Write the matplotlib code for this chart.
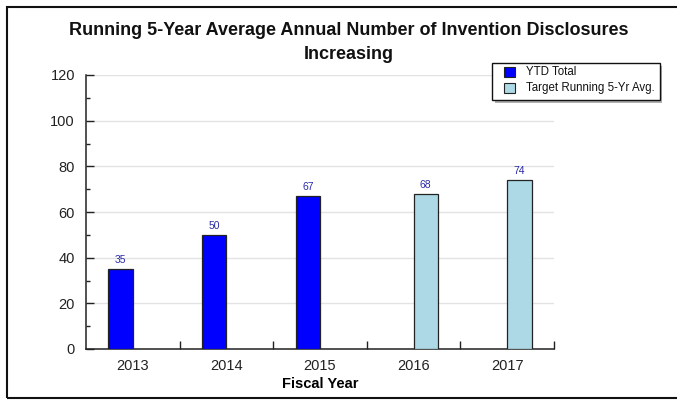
import matplotlib
matplotlib.use("Agg")
import matplotlib.pyplot as plt
from matplotlib.patches import Rectangle
import numpy as np

plt.rcParams['font.family'] = ['Liberation Sans', 'DejaVu Sans']

# data
years = ['2013', '2014', '2015', '2016', '2017']
ytd_total = [35, 50, 67, np.nan, np.nan]
target_avg = [np.nan, np.nan, np.nan, 68, 74]
series_names = ['YTD Total', 'Target Running 5-Yr Avg.']
series_colors = ['#0000ff', '#add8e6']
title = 'Running 5-Year Average Annual Number of Invention Disclosures\nIncreasing'

W, H = 677, 400


def fx(px):
    return px / W


def fy(py):
    return 1 - py / H


fig = plt.figure(figsize=(W / 100, H / 100), dpi=100)
ax = fig.add_axes([fx(86), fy(349), (554 - 86) / W, (349 - 75) / H])

x = np.arange(len(years))
w = 0.26
b1 = ax.bar(x - w / 2, ytd_total, w, color=series_colors[0], edgecolor='#222222',
            linewidth=0.9, label=series_names[0], zorder=3)
b2 = ax.bar(x + w / 2, target_avg, w, color=series_colors[1], edgecolor='#222222',
            linewidth=0.9, label=series_names[1], zorder=3)

# value labels above the bars
for bars, vals in ((b1, ytd_total), (b2, target_avg)):
    for rect, v in zip(bars, vals):
        if np.isnan(v):
            continue
        ax.annotate(f'{v:g}', (rect.get_x() + rect.get_width() / 2, v),
                    xytext=(0, 3), textcoords='offset points',
                    ha='center', va='bottom', fontsize=7.5, color='#2a2aa8')

ax.set_xlim(-0.5, len(years) - 0.5)
ax.set_ylim(0, 120)

# y axis: majors every 20, minors between, ticks pointing inside
ax.set_yticks(np.arange(0, 121, 20))
ax.set_yticks(np.arange(10, 120, 20), minor=True)
ax.tick_params(axis='y', which='major', direction='in', length=6, width=1,
               labelsize=10.5, pad=8, colors='#222222')
ax.tick_params(axis='y', which='minor', direction='in', length=3, width=1,
               colors='#222222')
ax.yaxis.grid(True, color='#e3e3e3', linewidth=1, zorder=0)

# x axis: ticks at category boundaries, labels at centers
ax.set_xticks(np.arange(0.5, len(years) - 0.5 + 0.01, 1))
ax.set_xticklabels([])
ax.set_xticks(x, minor=True)
ax.set_xticklabels(years, minor=True)
ax.tick_params(axis='x', which='major', direction='in', length=6, width=1,
               colors='#222222')
ax.tick_params(axis='x', which='minor', length=0, labelsize=10.5, pad=7,
               colors='#222222')
ax.set_xlabel('Fiscal Year', fontsize=10.5, fontweight='bold', labelpad=3)

for s in ('top', 'right'):
    ax.spines[s].set_visible(False)
for s in ('left', 'bottom'):
    ax.spines[s].set_color('#222222')
    ax.spines[s].set_linewidth(1.1)

fig.text(fx(349), fy(42.5), title, ha='center', va='center',
         fontsize=13, fontweight='bold', linespacing=1.5, color='#111111')

# legend drawn by hand: shadow, frame, swatches, labels
fig.patches.append(Rectangle((fx(495), fy(103)), 167 / W, 37 / H,
                             transform=fig.transFigure, facecolor='#b0b0b0',
                             edgecolor='none', zorder=5))
fig.patches.append(Rectangle((fx(492), fy(100)), 168 / W, 37 / H,
                             transform=fig.transFigure, facecolor='white',
                             edgecolor='#111111', linewidth=1, zorder=6))
for i, (name, col) in enumerate(zip(series_names, series_colors)):
    top = 67 + 16 * i
    fig.patches.append(Rectangle((fx(504), fy(top + 10)), 11 / W, 10 / H,
                                 transform=fig.transFigure, facecolor=col,
                                 edgecolor='#222222', linewidth=0.8, zorder=7))
    fig.text(fx(526), fy(top + 5), name, ha='left', va='center',
             fontsize=8.3, color='#111111', zorder=8)

# outer border (right side falls off the canvas)
fig.patches.append(Rectangle((fx(6.5), fy(398)), 700 / W, 391.5 / H,
                             transform=fig.transFigure, fill=False,
                             edgecolor='#111111', linewidth=1.5))

fig.savefig('out.png', dpi=100)
